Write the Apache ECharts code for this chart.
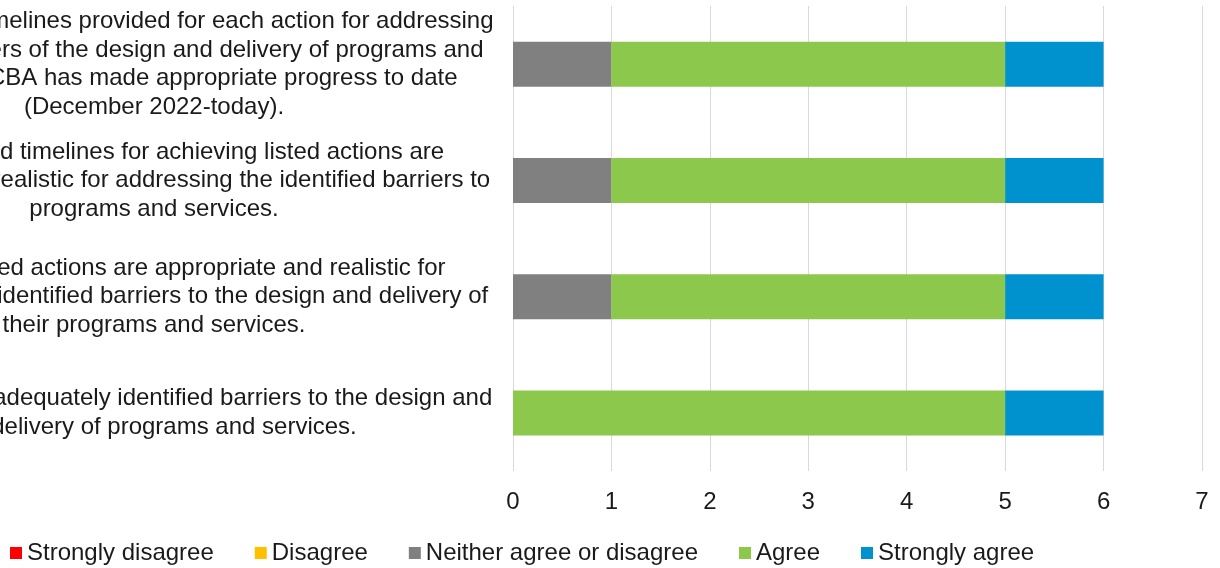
<!DOCTYPE html>
<html>
<head>
<meta charset="utf-8">
<title>Action plan rating</title>
<script src="https://cdn.jsdelivr.net/npm/echarts@6/dist/echarts.min.js"></script>
<style>
  html, body { margin: 0; padding: 0; background: #fff; }
  #main { width: 1220px; height: 568px; }
</style>
</head>
<body>
<div id="main"></div>
<script>
// categories, bottom to top (the left part of each label is cut off in the source)
var questions = [
  'The agency has adequately identified barriers to the design and\nthe delivery of programs and services.',
  'Their proposed actions are appropriate and realistic for\naddressing their identified barriers to the design and delivery of\ntheir programs and services.',
  'Milestone and timelines for achieving listed actions are\nappropriate and realistic for addressing the identified barriers to\nprograms and services.',
  'All actions and timelines provided for each action for addressing\nthe known barriers of the design and delivery of programs and\nservice. The CBA has made appropriate progress to date\n(December 2022-today).'
];

var seriesNames = ['Strongly disagree', 'Disagree', 'Neither agree or disagree', 'Agree', 'Strongly agree'];
var colors = ['#FF0000', '#FFC000', '#808080', '#8CC84B', '#0092CE'];

// number of responses per question (bottom to top)
var stronglyDisagree = [0, 0, 0, 0];
var disagree = [0, 0, 0, 0];
var neither = [0, 1, 1, 1];
var agree = [5, 4, 4, 4];
var stronglyAgree = [1, 1, 1, 1];

var xTicks = [0, 7, 1]; // min, max, step

var font = '"Liberation Sans", Arial, sans-serif';
var values = [stronglyDisagree, disagree, neither, agree, stronglyAgree];

var myChart = echarts.init(document.getElementById('main'));
var option = {
  animation: false,
  color: colors,
  textStyle: { fontFamily: font },
  legend: {
    data: seriesNames,
    left: 10,
    top: 541,
    padding: 0,
    icon: 'rect',
    itemWidth: 12,
    itemHeight: 12,
    itemGap: 41,
    textStyle: { fontSize: 24, color: '#1a1a1a', fontFamily: font }
  },
  grid: {
    left: 513,
    right: 18,
    top: 6,
    bottom: 97,
    containLabel: false,
    outerBoundsMode: 'none'
  },
  xAxis: {
    type: 'value',
    min: xTicks[0],
    max: xTicks[1],
    interval: xTicks[2],
    axisLine: { show: false },
    axisTick: { show: false },
    splitLine: { lineStyle: { color: '#D9D9D9', width: 1 } },
    axisLabel: { fontSize: 24, color: '#1a1a1a', margin: 19, fontFamily: font }
  },
  yAxis: {
    type: 'category',
    data: questions,
    axisLine: { show: false },
    axisTick: { show: false },
    axisLabel: {
      interval: 0,
      align: 'center',
      margin: 359,
      fontSize: 24,
      lineHeight: 28.5,
      color: '#1a1a1a',
      fontFamily: font
    }
  },
  series: seriesNames.map(function (name, i) {
    return {
      name: name,
      type: 'bar',
      stack: 'total',
      barWidth: 45,
      data: values[i]
    };
  })
};
myChart.setOption(option);
</script>
</body>
</html>
